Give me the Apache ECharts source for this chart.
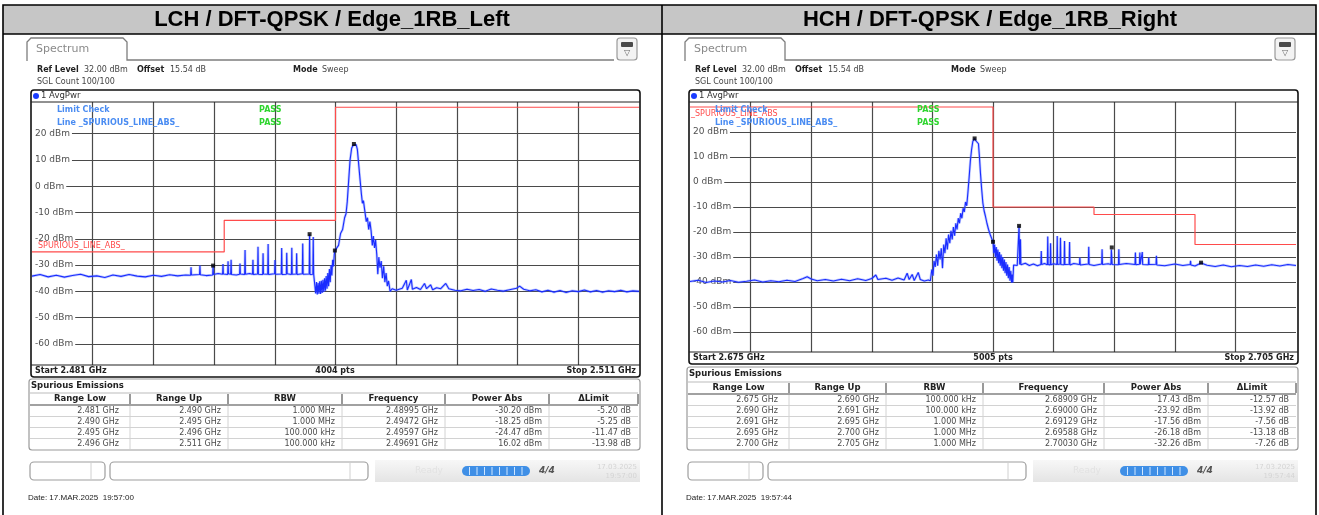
<!DOCTYPE html>
<html>
<head>
<meta charset="utf-8">
<style>
  html, body { margin: 0; padding: 0; background: #fff; }
  #chart { width: 1319px; height: 515px; }
</style>
<script src="https://cdn.jsdelivr.net/npm/echarts@6/dist/echarts.min.js"></script>
</head>
<body>
<div id="chart"></div>
<script>
// ---------------- data ----------------
const leftTitle = 'LCH / DFT-QPSK / Edge_1RB_Left';
const rightTitle = 'HCH / DFT-QPSK / Edge_1RB_Right';

const yTicks = [20, 10, 0, -10, -20, -30, -40, -50, -60];
const leftGridX = [2484, 2487, 2490, 2493, 2496, 2499, 2502, 2505, 2508];
const rightGridX = [2678, 2681, 2684, 2687, 2690, 2693, 2696, 2699, 2702];

// trace, [MHz, dBm]
const leftTrace = [
  [2481.0,-34.2],[2481.4,-33.6],[2481.8,-34.5],[2482.2,-33.9],[2482.6,-34.6],[2483.0,-34.0],[2483.4,-33.5],
  [2483.8,-34.4],[2484.2,-34.1],[2484.6,-34.7],[2485.0,-33.8],[2485.4,-34.3],[2485.8,-33.6],[2486.2,-34.2],
  [2486.6,-34.5],[2487.0,-33.9],[2487.4,-34.3],[2487.8,-33.7],[2488.2,-34.1],[2488.6,-33.8],
  [2488.84,-33.9],[2488.86,-30.8],[2488.88,-33.8],[2489.28,-33.6],[2489.30,-30.2],[2489.32,-33.7],[2489.6,-34.0],
  [2489.93,-33.8],[2489.95,-30.2],[2489.97,-33.6],[2490.2,-33.2],[2490.42,-33.5],[2490.44,-29.6],[2490.46,-33.4],
  [2490.67,-33.6],[2490.69,-28.6],[2490.71,-33.3],[2490.82,-33.5],[2490.84,-28.0],[2490.86,-33.6],[2491.1,-33.8],
  [2491.26,-33.5],[2491.28,-29.4],[2491.30,-33.4],[2491.51,-33.6],[2491.53,-24.3],[2491.55,-33.5],[2491.75,-33.2],
  [2491.90,-33.5],[2491.92,-28.0],[2491.94,-33.6],[2492.15,-33.4],[2492.17,-23.0],[2492.19,-33.5],[2492.40,-33.6],
  [2492.42,-25.5],[2492.44,-33.4],[2492.65,-33.5],[2492.67,-22.0],[2492.69,-33.6],[2492.99,-33.3],[2493.01,-28.1],
  [2493.03,-33.5],[2493.32,-33.4],[2493.34,-23.5],[2493.36,-33.6],[2493.57,-33.5],[2493.59,-25.3],[2493.61,-33.3],
  [2493.82,-33.6],[2493.84,-23.4],[2493.86,-33.5],[2494.06,-33.4],[2494.08,-25.5],[2494.10,-33.6],[2494.36,-33.3],
  [2494.38,-21.8],[2494.40,-33.5],[2494.70,-33.4],[2494.72,-18.3],[2494.74,-33.6],[2494.88,-33.5],[2494.90,-19.3],
  [2494.92,-33.4],[2495.0,-33.6],
  [2495.02,-40.8],[2495.06,-36.5],[2495.10,-41.2],[2495.14,-36.8],[2495.18,-40.9],[2495.22,-36.2],[2495.26,-41.0],
  [2495.30,-36.0],[2495.34,-40.6],[2495.38,-35.6],[2495.42,-40.2],[2495.46,-35.0],[2495.50,-39.8],[2495.54,-34.2],
  [2495.58,-39.0],[2495.62,-33.0],[2495.66,-38.0],[2495.70,-31.5],[2495.74,-36.5],[2495.78,-30.0],[2495.82,-34.0],
  [2495.86,-28.0],[2495.90,-30.5],[2495.94,-26.0],[2495.97,-24.5],
  [2496.05,-24.0],[2496.15,-22.5],[2496.25,-18.0],[2496.35,-16.5],[2496.45,-12.0],[2496.52,-10.5],[2496.58,-6.0],
  [2496.65,2.0],[2496.72,10.0],[2496.80,14.5],[2496.87,15.5],[2496.91,16.0],[2496.96,15.2],[2497.02,15.8],
  [2497.08,14.0],[2497.15,8.0],[2497.22,2.0],[2497.28,-3.0],[2497.33,-6.5],[2497.38,-5.5],[2497.45,-9.5],
  [2497.52,-13.5],[2497.58,-12.0],[2497.64,-16.5],[2497.70,-13.5],[2497.76,-17.0],[2497.82,-22.5],[2497.87,-19.0],
  [2497.93,-23.5],[2497.98,-20.5],[2498.04,-26.0],[2498.09,-33.5],[2498.14,-27.0],[2498.20,-31.0],[2498.26,-28.5],
  [2498.32,-35.0],[2498.38,-30.5],[2498.44,-36.5],[2498.50,-33.0],[2498.56,-38.0],[2498.62,-36.0],[2498.70,-40.0],
  [2498.80,-39.0],[2499.0,-39.6],[2499.3,-38.8],[2499.5,-35.8],[2499.55,-39.5],[2499.75,-35.5],[2499.8,-39.2],
  [2500.0,-38.5],[2500.2,-39.3],[2500.4,-37.0],[2500.5,-39.0],[2500.7,-37.5],[2500.8,-39.4],[2501.0,-38.6],
  [2501.2,-39.0],[2501.45,-37.0],[2501.6,-39.0],[2501.9,-39.6],[2502.2,-39.8],[2502.5,-39.2],[2502.8,-39.7],
  [2503.1,-39.3],[2503.4,-40.0],[2503.7,-39.1],[2504.0,-39.6],[2504.3,-39.9],[2504.6,-39.4],[2504.95,-38.8],
  [2505.1,-38.0],[2505.3,-39.2],[2505.6,-39.8],[2505.9,-39.4],[2506.2,-40.2],[2506.5,-39.6],[2506.8,-40.3],
  [2507.1,-39.7],[2507.4,-40.4],[2507.7,-39.8],[2508.0,-40.1],[2508.3,-39.5],[2508.6,-40.2],[2508.9,-39.7],
  [2509.2,-40.3],[2509.5,-39.8],[2509.8,-40.1],[2510.1,-39.6],[2510.4,-40.2],[2510.7,-39.8],[2511.0,-40.0]
];

const rightTrace = [
  [2675.0,-39.8],[2675.4,-39.3],[2675.8,-40.2],[2676.2,-39.6],[2676.6,-40.0],[2677.0,-39.4],[2677.4,-40.1],
  [2677.8,-39.7],[2678.2,-39.2],[2678.6,-40.0],[2679.0,-39.5],[2679.4,-39.9],[2679.8,-39.3],[2680.2,-39.8],
  [2680.6,-38.6],[2680.8,-37.9],[2681.0,-38.8],[2681.3,-39.5],[2681.7,-39.0],[2682.1,-39.6],[2682.5,-38.9],
  [2682.9,-39.5],[2683.3,-38.7],[2683.7,-39.4],[2684.0,-38.6],[2684.2,-37.2],[2684.3,-39.0],[2684.7,-38.5],
  [2685.0,-39.3],[2685.3,-38.4],[2685.6,-39.2],[2685.75,-36.5],[2685.85,-39.0],[2686.0,-37.0],[2686.1,-39.4],
  [2686.3,-36.2],[2686.4,-39.0],[2686.6,-39.6],[2686.8,-39.2],
  [2686.90,-39.5],[2686.97,-35.0],[2687.03,-37.5],[2687.08,-31.5],[2687.14,-34.0],[2687.20,-29.0],[2687.26,-33.5],
  [2687.32,-27.5],[2687.38,-31.0],[2687.44,-26.5],[2687.50,-34.5],[2687.56,-25.0],[2687.62,-28.5],[2687.68,-22.5],
  [2687.74,-27.0],[2687.80,-21.0],[2687.86,-24.5],[2687.92,-19.5],[2687.98,-23.0],[2688.04,-18.0],[2688.10,-21.5],
  [2688.16,-16.5],[2688.22,-19.0],[2688.28,-14.5],[2688.34,-16.5],[2688.40,-12.5],[2688.46,-14.5],[2688.52,-10.5],
  [2688.58,-12.0],[2688.64,-8.0],[2688.70,-9.5],[2688.76,-4.0],[2688.82,2.0],[2688.88,8.5],[2688.94,13.0],
  [2689.00,16.2],[2689.05,17.0],[2689.09,17.4],[2689.15,16.5],[2689.22,16.0],[2689.28,15.3],[2689.33,10.0],
  [2689.38,3.5],[2689.44,-3.0],[2689.50,-8.5],[2689.56,-11.5],[2689.62,-13.5],[2689.70,-16.5],[2689.78,-19.0],
  [2689.86,-21.0],[2689.93,-22.5],
  [2690.00,-23.9],[2690.04,-28.5],[2690.08,-25.0],[2690.12,-30.0],[2690.16,-26.0],[2690.20,-31.5],[2690.24,-27.0],
  [2690.28,-32.5],[2690.32,-28.0],[2690.36,-33.5],[2690.40,-29.0],[2690.44,-34.5],[2690.48,-30.0],[2690.52,-35.5],
  [2690.56,-31.0],[2690.60,-36.5],[2690.64,-32.0],[2690.68,-37.5],[2690.72,-33.0],[2690.76,-38.5],[2690.80,-34.0],
  [2690.84,-39.5],[2690.88,-35.5],[2690.92,-40.3],[2690.95,-37.0],[2690.98,-40.2],
  [2691.02,-33.2],[2691.10,-32.6],[2691.20,-33.4],[2691.26,-33.0],[2691.29,-17.4],[2691.32,-33.0],[2691.34,-33.2],
  [2691.36,-22.9],[2691.38,-33.1],[2691.6,-32.5],[2691.8,-33.4],[2692.0,-32.8],[2692.2,-33.5],[2692.37,-33.0],
  [2692.39,-27.6],[2692.41,-33.0],[2692.55,-32.6],[2692.69,-33.1],[2692.71,-21.8],[2692.73,-33.0],[2692.83,-33.2],
  [2692.85,-24.5],[2692.87,-33.1],[2693.0,-32.7],[2693.16,-33.0],[2693.18,-21.6],[2693.20,-33.0],[2693.32,-32.8],
  [2693.34,-22.3],[2693.36,-33.0],[2693.52,-33.1],[2693.54,-23.6],[2693.56,-33.0],[2693.77,-32.9],[2693.79,-24.0],
  [2693.81,-33.2],[2694.0,-32.6],[2694.28,-33.0],[2694.30,-30.2],[2694.32,-33.2],[2694.72,-32.8],[2694.74,-25.9],
  [2694.76,-33.0],[2695.0,-33.4],[2695.38,-32.8],[2695.40,-26.9],[2695.42,-33.0],[2695.70,-32.7],[2695.84,-33.0],
  [2695.86,-27.0],[2695.88,-26.2],[2695.90,-33.0],[2696.21,-33.1],[2696.23,-26.9],[2696.25,-33.0],[2696.6,-32.6],
  [2697.03,-33.0],[2697.05,-28.2],[2697.07,-33.1],[2697.25,-32.9],[2697.27,-28.2],[2697.29,-33.0],[2697.37,-32.8],
  [2697.39,-28.0],[2697.41,-33.0],[2697.69,-33.1],[2697.71,-30.2],[2697.73,-33.0],[2698.07,-32.9],[2698.09,-29.5],
  [2698.11,-33.2],[2698.5,-33.5],[2699.0,-32.8],[2699.4,-33.4],[2699.76,-33.0],[2699.78,-31.5],[2699.80,-33.2],
  [2700.0,-33.6],[2700.3,-32.4],[2700.6,-33.3],[2701.0,-33.8],[2701.4,-33.2],[2701.8,-33.9],[2702.2,-33.4],
  [2702.6,-33.8],[2703.0,-33.2],[2703.4,-33.7],[2703.8,-33.1],[2704.2,-33.6],[2704.6,-33.0],[2705.0,-33.4]
];

// limit line SPURIOUS_LINE_ABS
const leftLimit = [[2481,-25],[2490.5,-25],[2490.5,-13],[2496,-13],[2496,30],[2511,30]];
const rightLimit = [[2675,30],[2690,30],[2690,-10],[2695,-10],[2695,-13],[2700,-13],[2700,-25],[2705,-25]];

// peak markers per range
const leftMarkers = [[2489.95,-30.20],[2494.72,-18.25],[2495.97,-24.47],[2496.91,16.02]];
const rightMarkers = [[2689.09,17.43],[2690.00,-23.92],[2691.29,-17.56],[2695.88,-26.18],[2700.30,-32.26]];

const tableHead = ['Range Low', 'Range Up', 'RBW', 'Frequency', 'Power Abs', 'ΔLimit'];
const leftRows = [
  ['2.481 GHz', '2.490 GHz', '1.000 MHz', '2.48995 GHz', '-30.20 dBm', '-5.20 dB'],
  ['2.490 GHz', '2.495 GHz', '1.000 MHz', '2.49472 GHz', '-18.25 dBm', '-5.25 dB'],
  ['2.495 GHz', '2.496 GHz', '100.000 kHz', '2.49597 GHz', '-24.47 dBm', '-11.47 dB'],
  ['2.496 GHz', '2.511 GHz', '100.000 kHz', '2.49691 GHz', '16.02 dBm', '-13.98 dB']
];
const rightRows = [
  ['2.675 GHz', '2.690 GHz', '100.000 kHz', '2.68909 GHz', '17.43 dBm', '-12.57 dB'],
  ['2.690 GHz', '2.691 GHz', '100.000 kHz', '2.69000 GHz', '-23.92 dBm', '-13.92 dB'],
  ['2.691 GHz', '2.695 GHz', '1.000 MHz', '2.69129 GHz', '-17.56 dBm', '-7.56 dB'],
  ['2.695 GHz', '2.700 GHz', '1.000 MHz', '2.69588 GHz', '-26.18 dBm', '-13.18 dB'],
  ['2.700 GHz', '2.705 GHz', '1.000 MHz', '2.70030 GHz', '-32.26 dBm', '-7.26 dB']
];

// ---------------- layout ----------------
const FONT = '"DejaVu Sans"';
const panels = [
  { ox: 0, title: leftTitle, xMin: 2481, xMax: 2511, gridX: leftGridX, plotW: 607,
    plotTop: 102, plotBottom: 365, tableTitleY: 386, headY: 399, rowY: 411,
    seps: [130, 228, 342, 445, 549], rows: leftRows,
    start: 'Start 2.481 GHz', pts: '4004 pts', stop: 'Stop 2.511 GHz',
    date: 'Date: 17.MAR.2025  19:57:00', time: '19:57:00',
    lineLabel: { text: 'SPURIOUS_LINE_ABS_', x: 38, y: 246 } },
  { ox: 658, title: rightTitle, xMin: 2675, xMax: 2705, gridX: rightGridX, plotW: 606,
    plotTop: 102, plotBottom: 352, tableTitleY: 374, headY: 388, rowY: 400,
    seps: [131, 228, 325, 446, 550], rows: rightRows,
    start: 'Start 2.675 GHz', pts: '5005 pts', stop: 'Stop 2.705 GHz',
    date: 'Date: 17.MAR.2025  19:57:44', time: '19:57:44',
    lineLabel: { text: '_SPURIOUS_LINE_ABS', x: 691, y: 114 } }
];

function txt(x, y, s, font, fill, align, z) {
  return { type: 'text', z: z || 100, silent: true,
    style: { text: s, x: x, y: y, font: font, fill: fill, align: align || 'left', verticalAlign: 'middle' } };
}
function ln(x1, y1, x2, y2, stroke, w, z) {
  return { type: 'line', z: z || 100, silent: true, shape: { x1: x1, y1: y1, x2: x2, y2: y2 },
    style: { stroke: stroke, lineWidth: w || 1 } };
}
function box(x, y, w, h, r, stroke, fill, lw, z) {
  return { type: 'rect', z: z || 100, silent: true, shape: { x: x, y: y, width: w, height: h, r: r || 0 },
    style: { stroke: stroke || null, fill: fill || null, lineWidth: lw || 1 } };
}

function panelGraphics(p) {
  const o = p.ox, els = [];
  // title
  els.push(txt(332 + o, 20, p.title, 'bold 22px "Liberation Sans"', '#000', 'center'));
  // Spectrum tab + icon
  els.push({ type: 'polyline', z: 100, silent: true,
    shape: { points: [[27 + o, 61], [27 + o, 42], [31 + o, 38], [123 + o, 38], [127 + o, 42], [127 + o, 60], [614 + o, 60]] },
    style: { stroke: '#7d7d7d', fill: null, lineWidth: 1.3 } });
  els.push(txt(36 + o, 49, 'Spectrum', '11px ' + FONT, '#8a8a8a'));
  els.push(box(617 + o, 38, 20, 22, 3, '#9a9a9a', '#f3f3f3', 1.2));
  els.push(box(621 + o, 42, 12, 5, 1, null, '#4a4a4a'));
  els.push(txt(627 + o, 53, '▽', '8px ' + FONT, '#666', 'center'));
  // settings
  els.push(txt(37 + o, 70, 'Ref Level', 'bold 8px ' + FONT, '#222'));
  els.push(txt(84 + o, 70, '32.00 dBm', '8px ' + FONT, '#444'));
  els.push(txt(137 + o, 70, 'Offset', 'bold 8px ' + FONT, '#222'));
  els.push(txt(170 + o, 70, '15.54 dB', '8px ' + FONT, '#444'));
  els.push(txt(293 + o, 70, 'Mode', 'bold 8px ' + FONT, '#222'));
  els.push(txt(322 + o, 70, 'Sweep', '8px ' + FONT, '#444'));
  els.push(txt(37 + o, 82, 'SGL Count 100/100', '8px ' + FONT, '#444'));
  // diagram frame
  const barBottom = p.plotBottom + 12;
  els.push(box(31 + o, 90, 609, barBottom - 90, 3, '#111', null, 1.6));
  els.push(ln(31 + o, p.plotTop, 640 + o, p.plotTop, '#222', 1));
  els.push(ln(31 + o, p.plotBottom, 640 + o, p.plotBottom, '#222', 1.2));
  els.push({ type: 'circle', z: 100, silent: true, shape: { cx: 36 + o, cy: 96, r: 3 }, style: { fill: '#1a3cff' } });
  els.push(txt(41 + o, 96, '1 AvgPwr', '8.5px ' + FONT, '#333'));
  els.push(txt(35 + o, p.plotBottom + 6, p.start, 'bold 8px ' + FONT, '#222'));
  els.push(txt(335 + o, p.plotBottom + 6, p.pts, 'bold 8px ' + FONT, '#222', 'center'));
  els.push(txt(636 + o, p.plotBottom + 6, p.stop, 'bold 8px ' + FONT, '#222', 'right'));
  // limit check texts
  els.push(txt(p.lineLabel.x, p.lineLabel.y, p.lineLabel.text, '8px ' + FONT, '#ff4b4b', 'left', 101));
  els.push(txt(57 + o, 110, 'Limit Check', 'bold 8px ' + FONT, '#4a8cf2', 'left', 102));
  els.push(txt(57 + o, 123, 'Line _SPURIOUS_LINE_ABS_', 'bold 8px ' + FONT, '#4a8cf2', 'left', 102));
  els.push(txt(259 + o, 110, 'PASS', 'bold 8px ' + FONT, '#2fd52f', 'left', 102));
  els.push(txt(259 + o, 123, 'PASS', 'bold 8px ' + FONT, '#2fd52f', 'left', 102));
  // spurious emissions table
  const n = p.rows.length, rh = 11;
  const tTop = p.tableTitleY - 7, tBottom = p.rowY + (n - 1) * rh + 6;
  els.push(box(29 + o, tTop, 611, tBottom - tTop, 3, '#9a9a9a', null, 1.2));
  els.push(txt(31 + o, p.tableTitleY, 'Spurious Emissions', 'bold 8.5px ' + FONT, '#222'));
  const edges = [30].concat(p.seps, [638]);
  els.push(ln(30 + o, p.headY - 6, 638 + o, p.headY - 6, '#bbb', 1));
  els.push(ln(30 + o, p.headY + 6, 638 + o, p.headY + 6, '#444', 1.2));
  p.seps.forEach(function (s) {
    els.push(ln(s + o, p.headY - 5, s + o, p.headY + 5, '#555', 1.2));
    els.push(ln(s + o, p.headY + 7, s + o, tBottom - 1, '#d2d2d2', 1));
  });
  els.push(ln(638 + o, p.headY - 5, 638 + o, p.headY + 5, '#555', 1.2));
  tableHead.forEach(function (h, i) {
    els.push(txt((edges[i] + edges[i + 1]) / 2 + o, p.headY, h, 'bold 8.5px ' + FONT, '#222', 'center'));
  });
  p.rows.forEach(function (row, r) {
    const y = p.rowY + r * rh;
    if (r < n - 1) els.push(ln(30 + o, y + 5.5, 638 + o, y + 5.5, '#d2d2d2', 1));
    row.forEach(function (v, i) {
      els.push(txt(edges[i + 1] - (i === 0 ? 11 : 7) + o, y, v, '8px ' + FONT, '#4a4a4a', 'right'));
    });
  });
  // status bar
  els.push(box(375 + o, 460, 265, 22, 0, null,
    { type: 'linear', x: 0, y: 0, x2: 0, y2: 1, colorStops: [{ offset: 0, color: '#f7f7f7' }, { offset: 1, color: '#e4e4e4' }] }, 1, 99));
  els.push(box(30 + o, 462, 75, 18, 4, '#9d9d9d', '#fff', 1.2));
  els.push(ln(91 + o, 463, 91 + o, 479, '#d0d0d0', 1));
  els.push(box(110 + o, 462, 258, 18, 4, '#9d9d9d', '#fff', 1.2));
  els.push(ln(350 + o, 463, 350 + o, 479, '#d0d0d0', 1));
  els.push(txt(415 + o, 471, 'Ready', '9px ' + FONT, '#e2e2e2'));
  els.push(box(462 + o, 466, 68, 10, 5, null, '#3f8fe6'));
  for (let i = 1; i < 9; i++) els.push(ln(462 + o + i * 7.5, 467, 462 + o + i * 7.5, 475, '#cfe6ff', 1, 101));
  els.push(txt(539 + o, 471, '4/4', 'bold italic 9px ' + FONT, '#555'));
  els.push(txt(637 + o, 467, '17.03.2025', '7px ' + FONT, '#d4d4d4', 'right'));
  els.push(txt(637 + o, 476, p.time, '7px ' + FONT, '#d4d4d4', 'right'));
  els.push(txt(28 + o, 498, p.date, '8px "Liberation Sans"', '#222'));
  return els;
}

const graphics = [
  box(3, 5, 1313, 29, 0, null, '#c6c6c6', 1, 90),
  box(3, 5, 1313, 512, 0, '#000', null, 1.6, 110),
  ln(3, 34, 1316, 34, '#000', 1.6, 110),
  ln(662, 5, 662, 515, '#000', 1.6, 110)
].concat(panelGraphics(panels[0]), panelGraphics(panels[1]));

// ---------------- chart ----------------
const chart = echarts.init(document.getElementById('chart'), null, { renderer: 'canvas' });

const grids = panels.map(function (p) {
  return { left: 32 + p.ox, top: p.plotTop, width: p.plotW, height: p.plotBottom - p.plotTop };
});
const xAxes = panels.map(function (p, i) {
  return { gridIndex: i, type: 'value', min: p.xMin, max: p.xMax,
    axisLine: { show: false }, axisTick: { show: false, customValues: p.gridX }, axisLabel: { show: false },
    splitLine: { show: true, lineStyle: { color: '#4a4a4a', width: 1.2 } } };
});
const yAxes = panels.map(function (p, i) {
  return { gridIndex: i, type: 'value', min: -68, max: 32,
    axisLine: { show: false }, axisTick: { show: false, customValues: yTicks },
    axisLabel: { inside: true, margin: 0, customValues: yTicks, formatter: function (v) { return v + ' dBm'; },
      color: '#505050', fontSize: 9, fontFamily: 'DejaVu Sans', backgroundColor: '#fff', padding: [0, 2, 0, 3] },
    splitLine: { show: true, lineStyle: { color: '#4a4a4a', width: 1.2 } } };
});

const traces = [leftTrace, rightTrace], limits = [leftLimit, rightLimit], markers = [leftMarkers, rightMarkers];
const series = [];
panels.forEach(function (p, i) {
  series.push({ type: 'line', xAxisIndex: i, yAxisIndex: i, data: limits[i], showSymbol: false, silent: true,
    lineStyle: { color: '#ff4b4b', width: 1.2 }, z: 2 });
  // soft halo under the trace, like the analyzer's anti-aliased display
  series.push({ type: 'line', xAxisIndex: i, yAxisIndex: i, data: traces[i], showSymbol: false, silent: true,
    lineStyle: { color: 'rgba(80,110,255,0.35)', width: 2.6 }, z: 3 });
  series.push({ type: 'line', xAxisIndex: i, yAxisIndex: i, data: traces[i], showSymbol: false, silent: true,
    lineStyle: { color: '#1a2cff', width: 1.1 }, z: 4 });
  series.push({ type: 'scatter', xAxisIndex: i, yAxisIndex: i, data: markers[i], symbol: 'rect', symbolSize: 4,
    itemStyle: { color: '#000' }, silent: true, z: 5 });
});

chart.setOption({
  animation: false,
  backgroundColor: '#fff',
  grid: grids,
  xAxis: xAxes,
  yAxis: yAxes,
  series: series,
  graphic: { elements: graphics }
});
</script>
</body>
</html>
